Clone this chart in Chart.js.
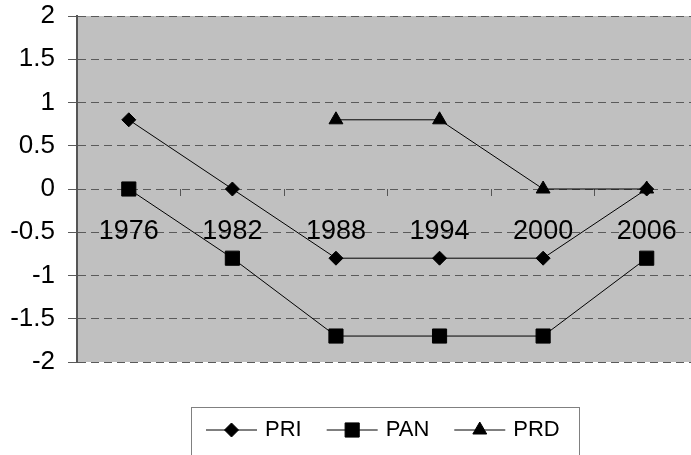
<!DOCTYPE html>
<html>
<head>
<meta charset="utf-8">
<script src="https://cdn.jsdelivr.net/npm/chart.js@4/dist/chart.umd.min.js"></script>
<style>
    body { margin: 0; background: #fff; overflow: hidden; }
    #wrap { width: 710px; height: 455px; }
</style>
</head>
<body>
<div id="wrap"><canvas id="chart" width="710" height="455"></canvas></div>
<script>
// Data
const years = ['1976', '1982', '1988', '1994', '2000', '2006'];
const priValues = [0.8, 0, -0.8, -0.8, -0.8, 0];
const panValues = [0, -0.8, -1.7, -1.7, -1.7, -0.8];
const prdValues = [null, null, 0.8, 0.8, 0, 0];
const yTicks = [2, 1.5, 1, 0.5, 0, -0.5, -1, -1.5, -2];

const FONT = '"Liberation Sans", Arial, sans-serif';

// Gray plot area background
const plotBackground = {
    id: 'plotBackground',
    beforeDraw(chart) {
        const a = chart.chartArea;
        const ctx = chart.ctx;
        ctx.save();
        ctx.fillStyle = '#c0c0c0';
        ctx.fillRect(a.left, a.top, a.right - a.left, a.bottom - a.top);
        ctx.restore();
    }
};

// Boxed legend under the plot, line + marker per series
const boxLegend = {
    id: 'boxLegend',
    afterDraw(chart) {
        const ctx = chart.ctx;
        ctx.save();
        ctx.strokeStyle = '#808080';
        ctx.lineWidth = 1;
        ctx.strokeRect(191.5, 407.5, 388, 80);

        ctx.font = '22px ' + FONT;
        ctx.textBaseline = 'middle';
        ctx.fillStyle = '#000';
        let x = 206;
        const y = 430;
        chart.data.datasets.forEach(ds => {
            ctx.strokeStyle = ds.borderColor;
            ctx.lineWidth = 1;
            ctx.beginPath();
            ctx.moveTo(x, y);
            ctx.lineTo(x + 51, y);
            ctx.stroke();
            Chart.helpers.drawPoint(ctx, {
                pointStyle: ds.pointStyle,
                radius: ds.pointRadius,
                borderWidth: 1
            }, x + 25.5, y);
            ctx.fillStyle = '#000';
            ctx.fillText(ds.label, x + 59, y);
            x += 59 + ctx.measureText(ds.label).width + 25;
        });
        ctx.restore();
    }
};

function series(label, data, style, radius) {
    return {
        label: label,
        data: data,
        borderColor: '#000',
        backgroundColor: '#000',
        borderWidth: 1,
        pointStyle: style,
        pointRadius: radius,
        pointHoverRadius: radius,
        pointBackgroundColor: '#000',
        pointBorderColor: '#000',
        pointBorderWidth: 1,
        tension: 0,
        spanGaps: false
    };
}

function noPadding(scale) {
    scale.paddingTop = 0;
    scale.paddingBottom = 0;
    scale.paddingLeft = 0;
    scale.paddingRight = 0;
}

new Chart(document.getElementById('chart'), {
    type: 'line',
    data: {
        labels: years,
        datasets: [
            series('PRI', priValues, 'rectRot', 7),
            series('PAN', panValues, 'rect', 10),
            series('PRD', prdValues, 'triangle', 8)
        ]
    },
    options: {
        responsive: false,
        animation: false,
        layout: { padding: { left: 0, top: 16, right: 11.5, bottom: 93 } },
        plugins: {
            legend: { display: false },
            title: { display: false },
            tooltip: { enabled: false }
        },
        scales: {
            x: {
                type: 'category',
                offset: true,
                position: { y: 0 },
                afterFit: noPadding,
                border: { display: false },
                grid: {
                    offset: true,
                    drawOnChartArea: false,
                    drawTicks: true,
                    tickLength: 7,
                    tickColor: '#555'
                },
                ticks: {
                    color: '#000',
                    padding: 19,
                    maxRotation: 0,
                    font: { family: FONT, size: 27 }
                }
            },
            y: {
                min: -2,
                max: 2,
                afterFit(scale) { noPadding(scale); scale.width = 77; },
                afterBuildTicks(scale) { scale.ticks = yTicks.map(v => ({ value: v })); },
                border: { display: true, color: '#555', width: 2, dash: [8, 5] },
                grid: {
                    color: '#5a5a5a',
                    lineWidth: 1,
                    tickLength: 9,
                    tickColor: '#5a5a5a'
                },
                ticks: {
                    color: '#000',
                    padding: 13,
                    font: { family: FONT, size: 26 },
                    callback: v => String(v)
                }
            }
        }
    },
    plugins: [plotBackground, boxLegend]
});
</script>
</body>
</html>
